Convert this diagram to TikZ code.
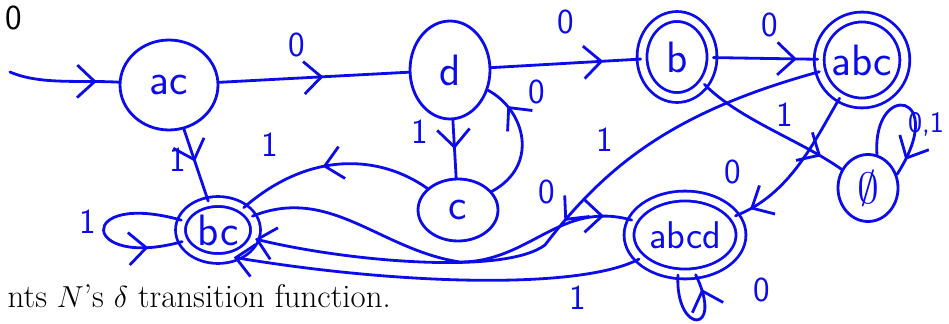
\documentclass[tikz,border=0pt]{standalone}
\usepackage{fontspec}
\usetikzlibrary{shapes.geometric,arrows.meta,decorations.markings}

\definecolor{inchiostro}{RGB}{12,12,235}

\begin{document}
\begin{tikzpicture}[
    x=0.02cm,y=-0.02cm,
    penna/.style={draw=inchiostro,line width=1.6pt},
    stato/.style={ellipse,penna,fill=white,inner sep=0pt,text=inchiostro,
                  font=\fontsize{25}{27}\sffamily},
    finale/.style={stato,double=white,double distance=4pt},
    arco/.style={penna,line cap=round},
    punta/.style={-{Straight Barb[length=3.5mm,width=6.5mm]}},
    freccia/.style={postaction={decorate},decoration={markings,
        mark=at position #1 with {\arrow[inchiostro,line width=1.6pt]{Straight Barb[length=3.5mm,width=6.5mm]}}}},
    etic/.style={text=inchiostro,font=\fontsize{20}{22}\sffamily}]

  \useasboundingbox (0,0) rectangle (949,324);

  % --- gli stati del DFA ---
  \node[stato,minimum width=1.96cm,minimum height=1.8cm] (ac) at (169,85) {ac};
  \node[stato,minimum width=1.6cm,minimum height=1.96cm] (d) at (450,70) {d};
  \node[finale,minimum width=1.4cm,minimum height=1.62cm] (b) at (677,57) {b};
  \node[finale,minimum width=1.6cm,minimum height=1.72cm] (abc) at (862,60) {abc};
  \node[stato,minimum width=1.2cm,minimum height=1.34cm] (vuoto) at (868,188) {$\emptyset$};
  \node[finale,minimum width=1.5cm,minimum height=1.14cm] (bc) at (218,230) {bc};
  \node[stato,minimum width=1.6cm,minimum height=1.24cm] (c) at (458,210) {c};
  \node[finale,minimum width=2.24cm,minimum height=1.56cm,
        font=\fontsize{22}{24}\sffamily] (abcd) at (685,235) {abcd};

  % --- freccia iniziale ---
  \coordinate (inizio) at (10,72);
  \draw[arco,freccia=0.8] (inizio) .. controls (40,85) and (80,80) .. (ac);

  % --- transizioni ---
  \draw[arco,freccia=0.55] (ac) -- (d);
  \draw[arco,freccia=0.45] (ac) -- (bc);
  \draw[arco,freccia=0.75] (d) -- (b);
  \draw[arco,freccia=0.5] (d) -- (c);
  \draw[arco,freccia=0.8] (c) .. controls (540,165) and (525,110) .. (d);
  \draw[arco,freccia=0.8] (b) -- (abc);
  \draw[arco,freccia=0.85] (b) .. controls (740,120) and (800,140) .. (vuoto);
  \draw[arco,freccia=0.9] (abc) .. controls (815,140) and (790,195) .. (abcd);
  \draw[arco,punta,freccia=0.48] (abc) .. controls (680,110) and (610,160) .. (545,245)
       .. controls (505,275) and (350,262) .. (bc);
  \draw[arco,punta] (abcd) .. controls (580,290) and (400,285) .. (bc.-60);
  \draw[arco,freccia=0.93] (bc) .. controls (330,185) and (380,250) .. (460,262)
       .. controls (530,262) and (560,200) .. (abcd);
  \draw[arco,freccia=0.55] (c) .. controls (380,155) and (310,150) .. (bc);

  % --- cappi ---
  \draw[arco,freccia=0.8] (bc.165) .. controls (75,190) and (80,270) .. (bc.198);
  \draw[arco,freccia=0.85] (abcd.-100) .. controls (675,335) and (725,335) .. (abcd.-75);
  \draw[arco,freccia=0.88] (vuoto.75) .. controls (872,80) and (950,92) .. (vuoto.25);

  % --- etichette degli archi ---
  \node[etic] (e1) at (297,45) {0};
  \node[etic] (e2) at (178,160) {1};
  \node[etic] (e3) at (566,22) {0};
  \node[etic] (e4) at (420,132) {1};
  \node[etic] (e5) at (537,92) {0};
  \node[etic] (e6) at (770,25) {0};
  \node[etic] (e7) at (785,115) {1};
  \node[etic] (e8) at (733,172) {0};
  \node[etic] (e9) at (605,140) {1};
  \node[etic] (e10) at (578,298) {1};
  \node[etic] (e11) at (547,192) {0};
  \node[etic] (e12) at (270,145) {1};
  \node[etic] (e13) at (88,222) {1};
  \node[etic] (e14) at (762,290) {0};
  \node[etic,anchor=east,inner sep=1pt,font=\fontsize{17}{19}\sffamily] (e15)
       at (946,124) {0,1};

  % --- testo nero ---
  \node[font=\fontsize{20}{22}\sffamily] (zero) at (14,18) {0};
  \node[anchor=base east,font=\fontsize{18.7}{22}\selectfont] (didascalia)
       at (397,307) {nts $N$'s $\delta$ transition function.};

\end{tikzpicture}
\end{document}
